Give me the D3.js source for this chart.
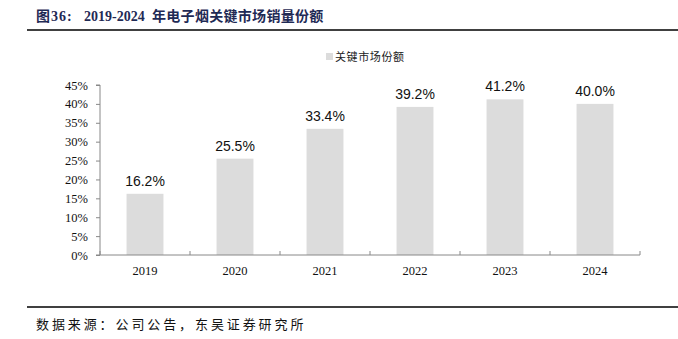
<!DOCTYPE html>
<html>
<head>
<meta charset="utf-8">
<script src="https://cdn.jsdelivr.net/npm/d3@7"></script>
<style>
  html, body { margin: 0; padding: 0; background: #fff; }
  svg { display: block; }
</style>
</head>
<body>
<svg id="chart" width="678" height="339"></svg>
<script>
// Key-market share of e-cigarette sales, 2019-2024
const years = ["2019", "2020", "2021", "2022", "2023", "2024"];
const share = [16.2, 25.5, 33.4, 39.2, 41.2, 40.0];
const yTicks = [0, 5, 10, 15, 20, 25, 30, 35, 40, 45];
const seriesName = "关键市场份额";
const titleLabel = "图36:";
const titleRange = "2019-2024";
const titleRest = "年电子烟关键市场销量份额";
const sourceText = "数据来源：公司公告，东吴证券研究所";

const svg = d3.select("#chart");
const W = 678;

const serif = "'Liberation Serif', 'Times New Roman', serif";
const sans = "'Liberation Sans', Arial, sans-serif";
const cjk = "'Noto Sans CJK SC', sans-serif";

// Title and rules
const title = svg.append("text")
  .attr("y", 21)
  .attr("font-family", serif + ", " + cjk)
  .attr("font-weight", "bold")
  .attr("font-size", 14)
  .attr("fill", "#1f2a55");
title.append("tspan").attr("x", 36).attr("letter-spacing", 1).text(titleLabel);
title.append("tspan").attr("x", 84).text(titleRange);
title.append("tspan").attr("x", 152).attr("letter-spacing", 0.3).text(titleRest);

svg.append("line")
  .attr("x1", 27).attr("x2", W).attr("y1", 30).attr("y2", 30)
  .attr("stroke", "#000").attr("stroke-width", 1.5);
svg.append("line")
  .attr("x1", 27).attr("x2", W).attr("y1", 307).attr("y2", 307)
  .attr("stroke", "#000").attr("stroke-width", 1.5);
svg.append("text")
  .attr("x", 36).attr("y", 329)
  .attr("font-family", cjk)
  .attr("font-size", 13)
  .attr("letter-spacing", 2.9)
  .attr("fill", "#111")
  .text(sourceText);

// Plot area
const x0 = 100, x1 = 640, yTop = 85, yBot = 255;
const x = d3.scaleBand().domain(years).range([x0, x1]).paddingInner(0.59).paddingOuter(0.295);
const y = d3.scaleLinear().domain([0, 45]).range([yBot, yTop]);

// Bars
svg.append("g").selectAll("rect")
  .data(years)
  .join("rect")
  .attr("x", d => x(d))
  .attr("width", x.bandwidth())
  .attr("y", (d, i) => y(share[i]))
  .attr("height", (d, i) => yBot - y(share[i]))
  .attr("fill", "#dcdcdc");

// Value labels
svg.append("g").selectAll("text")
  .data(years)
  .join("text")
  .attr("x", d => x(d) + x.bandwidth() / 2)
  .attr("y", (d, i) => y(share[i]) - 8)
  .attr("text-anchor", "middle")
  .attr("font-family", sans)
  .attr("font-size", 14)
  .attr("fill", "#111")
  .text((d, i) => share[i].toFixed(1) + "%");

// Y axis
const yAxis = d3.axisLeft(y).tickValues(yTicks).tickFormat(d => d + "%").tickSize(4).tickPadding(8);
const gy = svg.append("g").attr("transform", `translate(${x0},0)`).call(yAxis);
gy.select(".domain").attr("stroke", "#888").attr("d", `M-4,${yTop}H0V${yBot}H-4`);
gy.selectAll(".tick line").attr("stroke", "#888");
gy.selectAll(".tick text").attr("font-family", serif).attr("font-size", 12.5).attr("fill", "#111");

// X axis with category boundary ticks
const gx = svg.append("g").attr("transform", `translate(0,${yBot})`);
gx.append("line").attr("x1", x0).attr("x2", x1).attr("stroke", "#888");
const step = x.step();
gx.selectAll("line.sep")
  .data(d3.range(years.length + 1))
  .join("line")
  .attr("class", "sep")
  .attr("x1", i => x0 + i * step).attr("x2", i => x0 + i * step)
  .attr("y1", -4).attr("y2", 0)
  .attr("stroke", "#888");
gx.selectAll("text")
  .data(years)
  .join("text")
  .attr("x", d => x(d) + x.bandwidth() / 2)
  .attr("y", 20)
  .attr("text-anchor", "middle")
  .attr("font-family", serif)
  .attr("font-size", 12.5)
  .attr("fill", "#111")
  .text(d => d);

// Legend
const lg = svg.append("g").attr("transform", "translate(326,53)");
lg.append("rect").attr("width", 7).attr("height", 7).attr("fill", "#dcdcdc");
lg.append("text")
  .attr("x", 9).attr("y", 7.5)
  .attr("font-family", cjk)
  .attr("font-size", 11)
  .attr("letter-spacing", 0.6)
  .attr("fill", "#222")
  .text(seriesName);
</script>
</body>
</html>
